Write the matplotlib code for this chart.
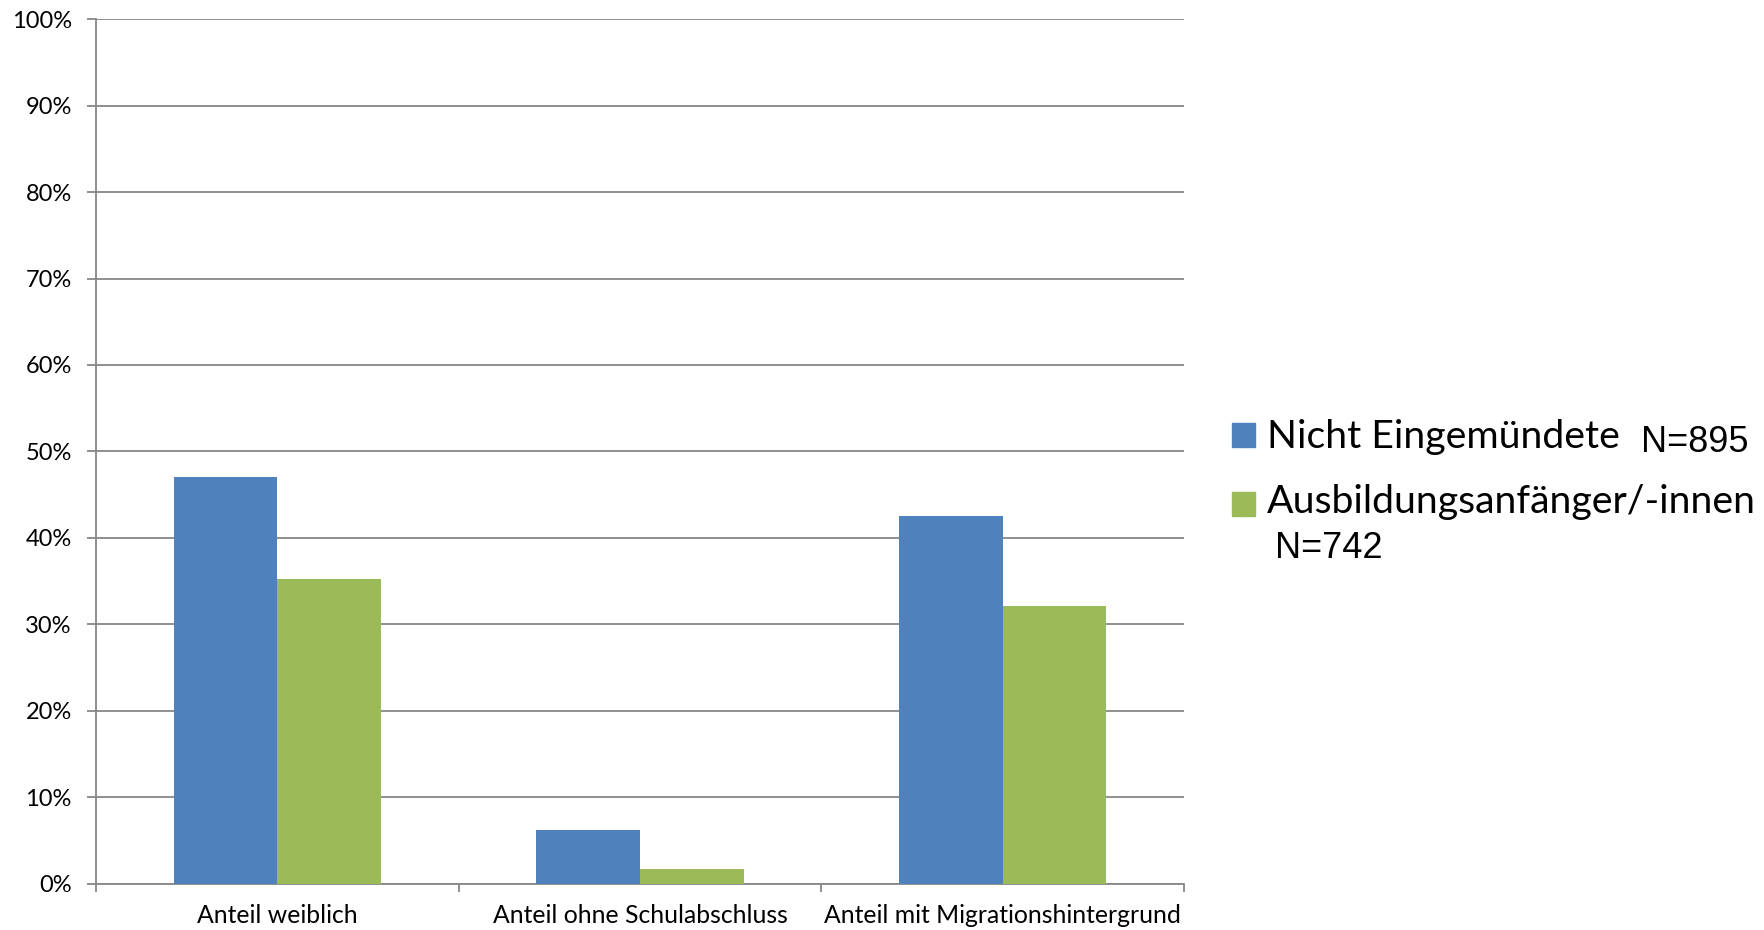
import matplotlib
matplotlib.use("Agg")
import matplotlib.pyplot as plt
import numpy as np
from matplotlib.patches import Rectangle

# shares per group, in percent
categories = ["Anteil weiblich", "Anteil ohne Schulabschluss", "Anteil mit Migrationshintergrund"]
nicht_eingemuendete = [47.0, 6.2, 42.5]
ausbildungsanfaenger = [35.2, 1.7, 32.1]
y_ticks = [0, 10, 20, 30, 40, 50, 60, 70, 80, 90, 100]
series_names = ["Nicht Eingemündete", "Ausbildungsanfänger/-innen"]
series_n = ["N=895", "N=742"]

blue = "#4F81BD"
green = "#9BBB59"
grid_grey = "#878787"

W, H = 1765, 930
fig = plt.figure(figsize=(W / 100, H / 100), dpi=100)
ax = fig.add_axes([96 / W, 1 - 883.5 / H, (1184 - 96) / W, (883.5 - 19.3) / H])

x = np.arange(len(categories))
bw = 1 / 3.5
ax.bar(x - bw / 2, nicht_eingemuendete, width=bw, color=blue, zorder=3)
ax.bar(x + bw / 2, ausbildungsanfaenger, width=bw, color=green, zorder=3)

ax.set_xlim(-0.5, len(categories) - 0.5)
ax.set_ylim(0, 100)
ax.set_yticks(y_ticks)
ax.set_yticklabels([f"{t}%" for t in y_ticks], family=["Lato", "DejaVu Sans"], fontsize=17)
ax.yaxis.grid(True, color=grid_grey, lw=1.3, zorder=0)
ax.tick_params(axis="y", length=6.5, width=1.3, color=grid_grey, pad=11)

# category boundaries carry the ticks, labels sit in the middle
ax.set_xticks(np.arange(-0.5, len(categories)), minor=False)
ax.set_xticklabels([])
ax.set_xticks(x, minor=True)
ax.set_xticklabels(categories, minor=True, family=["Lato", "DejaVu Sans"], fontsize=17.8)
ax.tick_params(axis="x", which="major", length=6, width=1.3, color=grid_grey)
ax.tick_params(axis="x", which="minor", length=0, pad=15)

for side in ["top", "right"]:
    ax.spines[side].set_visible(False)
for side in ["left", "bottom"]:
    ax.spines[side].set_color(grid_grey)
    ax.spines[side].set_linewidth(1.3)

# legend drawn by hand to the right of the plot
def px(xp, yp):
    return xp / W, 1 - yp / H

for (name, color, sq_top, base) in [(series_names[0], blue, 423, 448),
                                    (series_names[1], green, 492, 513)]:
    fig.add_artist(Rectangle(px(1232, sq_top + 24), 23 / W, 24 / H,
                             transform=fig.transFigure, color=color))
    fig.text(*px(1267, base), name, family=["Lato", "DejaVu Sans"],
             fontsize=28.3, va="baseline", ha="left")

fig.text(*px(1641, 452), series_n[0], family=["Liberation Sans", "DejaVu Sans"],
         fontsize=26, va="baseline", ha="left")
fig.text(*px(1275, 558), series_n[1], family=["Liberation Sans", "DejaVu Sans"],
         fontsize=26, va="baseline", ha="left")

fig.savefig("out.png", dpi=100, facecolor="white")
